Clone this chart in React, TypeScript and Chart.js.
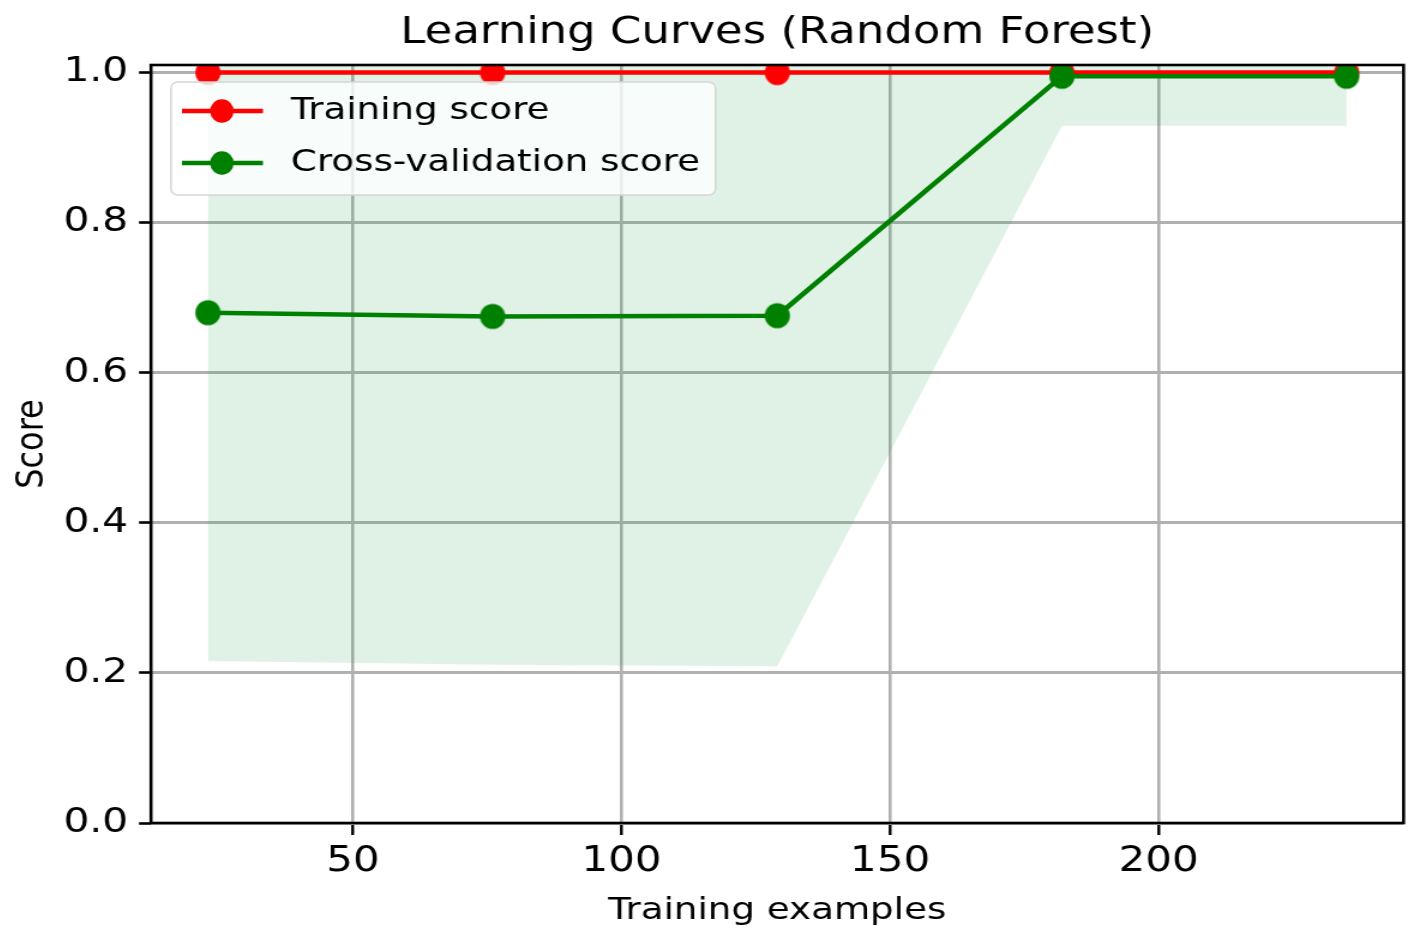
import React, { useEffect, useRef } from 'react';
import { Chart, registerables } from 'chart.js';

Chart.register(...registerables);

// ---- data ----
const trainSizes = [23, 76, 129, 182, 235];
const trainScoreMean = [1.0, 1.0, 1.0, 1.0, 1.0];
const cvScoreMean = [0.68, 0.675, 0.676, 0.995, 0.995];
const cvScoreLower = [0.216, 0.211, 0.209, 0.929, 0.929];
const cvScoreUpper = [1.144, 1.139, 1.143, 1.061, 1.061];
const xTicks = [50, 100, 150, 200];
const yTicks = [0, 0.2, 0.4, 0.6, 0.8, 1.0];
const seriesLabels = ['Training score', 'Cross-validation score'];
const titleText = 'Learning Curves (Random Forest)';
const xTitle = 'Training examples';
const yTitle = 'Score';

// ---- look ----
const SX = 1.2; // horizontal stretch of the whole figure
const W = 1172;
const H = 924;
const FONT = "'DejaVu Sans', sans-serif";
const RED = '#ff0000';
const GREEN = '#008000';
const BAND = 'rgba(30,160,70,0.14)';

function makeMarker(color: string, rx: number, ry: number) {
  const c = document.createElement('canvas');
  c.width = Math.ceil(rx * 2) + 2;
  c.height = Math.ceil(ry * 2) + 2;
  const g = c.getContext('2d')!;
  g.fillStyle = color;
  g.beginPath();
  g.ellipse(c.width / 2, c.height / 2, rx, ry, 0, 0, Math.PI * 2);
  g.fill();
  return c;
}

const framePlugin = {
  id: 'frame',
  afterDatasetsDraw(chart: any) {
    const { ctx, chartArea: a } = chart;
    ctx.save();
    ctx.strokeStyle = '#000';
    ctx.lineWidth = 2.6;
    ctx.strokeRect(a.left, a.top, a.right - a.left, a.bottom - a.top);
    ctx.restore();
  },
};

const legendPlugin = {
  id: 'mplLegend',
  afterDraw(chart: any) {
    const { ctx, chartArea: a } = chart;
    const x0 = a.left + 16.6;
    const y0 = a.top + 17;
    const w = 454;
    const h = 113;
    ctx.save();
    ctx.beginPath();
    (ctx as any).roundRect(x0, y0, w, h, 6);
    ctx.fillStyle = 'rgba(255,255,255,0.8)';
    ctx.fill();
    ctx.strokeStyle = '#d6d6d6';
    ctx.lineWidth = 1.5;
    ctx.stroke();
    const rows = [
      { label: seriesLabels[0], color: RED, dy: 29 },
      { label: seriesLabels[1], color: GREEN, dy: 81 },
    ];
    rows.forEach((r) => {
      const cy = y0 + r.dy;
      ctx.strokeStyle = r.color;
      ctx.lineWidth = 4.5;
      ctx.beginPath();
      ctx.moveTo(x0 + 9.2, cy);
      ctx.lineTo(x0 + 76.7, cy);
      ctx.stroke();
      ctx.fillStyle = r.color;
      ctx.beginPath();
      ctx.ellipse(x0 + 42.5, cy, 11.8 / SX, 11.8, 0, 0, Math.PI * 2);
      ctx.fill();
      ctx.fillStyle = '#000';
      ctx.font = `31px ${FONT}`;
      ctx.textAlign = 'left';
      ctx.textBaseline = 'middle';
      ctx.fillText(r.label, x0 + 100, cy);
    });
    ctx.restore();
  },
};

export default function App() {
  const ref = useRef<HTMLCanvasElement | null>(null);

  useEffect(() => {
    const canvas = ref.current!;
    const redMarker = makeMarker(RED, 12.6 / SX, 12.6);
    const greenMarker = makeMarker(GREEN, 12.6 / SX, 12.6);
    const pts = (ys: number[]) => trainSizes.map((x, i) => ({ x, y: ys[i] }));

    const chart = new Chart(canvas, {
      type: 'line',
      data: {
        datasets: [
          {
            label: 'cv upper',
            data: pts(cvScoreUpper),
            borderWidth: 0,
            pointRadius: 0,
            backgroundColor: BAND,
            fill: '+1',
            order: 3,
            clip: 0,
          } as any,
          {
            label: 'cv lower',
            data: pts(cvScoreLower),
            borderWidth: 0,
            pointRadius: 0,
            fill: false,
            order: 4,
            clip: 0,
          },
          {
            label: seriesLabels[0],
            data: pts(trainScoreMean),
            borderColor: RED,
            backgroundColor: RED,
            borderWidth: 4.5,
            pointStyle: redMarker as any,
            pointRadius: 12,
            fill: false,
            order: 1,
            clip: 0,
          },
          {
            label: seriesLabels[1],
            data: pts(cvScoreMean),
            borderColor: GREEN,
            backgroundColor: GREEN,
            borderWidth: 4.5,
            pointStyle: greenMarker as any,
            pointRadius: 12,
            fill: false,
            order: 0,
            clip: 0,
          },
        ],
      },
      options: {
        responsive: false,
        animation: false,
        devicePixelRatio: 1,
        events: [],
        layout: { autoPadding: false, padding: { left: 0, right: 8.7, top: 0, bottom: 0 } },
        elements: { line: { tension: 0 } },
        plugins: {
          legend: { display: false },
          tooltip: { enabled: false },
          title: {
            display: true,
            text: titleText,
            color: '#000',
            font: { family: FONT, size: 37.5, weight: 'normal' as any, lineHeight: 1.2 },
            padding: { top: 2.5, bottom: 9.5 },
            fullSize: false,
          },
        },
        scales: {
          x: {
            type: 'linear',
            min: 12.4,
            max: 245.6,
            afterBuildTicks: (s: any) => {
              s.ticks = xTicks.map((v) => ({ value: v }));
            },
            afterFit: (s: any) => {
              s.height = 109;
            },
            ticks: {
              color: '#000',
              font: { family: FONT, size: 35 },
              padding: 6,
              maxRotation: 0,
              autoSkip: false,
              callback: (v: any) => String(v),
            },
            grid: {
              color: '#b0b0b0',
              lineWidth: 2.6,
              drawTicks: true,
              tickLength: 12,
              tickColor: '#000',
              tickWidth: 2.4,
            },
            border: { display: false },
            title: {
              display: true,
              text: xTitle,
              color: '#000',
              font: { family: FONT, size: 31, lineHeight: 1.2 },
              padding: { top: 0, bottom: 2.5 },
            },
          },
          y: {
            type: 'linear',
            min: 0,
            max: 1.01,
            afterBuildTicks: (s: any) => {
              s.ticks = yTicks.map((v) => ({ value: v }));
            },
            afterFit: (s: any) => {
              s.width = 119.2;
            },
            ticks: {
              color: '#000',
              font: { family: FONT, size: 34 },
              padding: 9,
              autoSkip: false,
              callback: (v: any) => Number(v).toFixed(1),
            },
            grid: {
              color: '#b0b0b0',
              lineWidth: 3,
              drawTicks: true,
              tickLength: 10,
              tickColor: '#000',
              tickWidth: 2.6,
            },
            border: { display: false },
            title: {
              display: true,
              text: yTitle,
              color: '#000',
              font: { family: FONT, size: 32, lineHeight: 1.2 },
              padding: { top: 1, bottom: 0 },
            },
          },
        },
      },
      plugins: [framePlugin, legendPlugin],
    });
    canvas.style.width = `${W * SX}px`;
    canvas.style.height = `${H}px`;
    return () => chart.destroy();
  }, []);

  return (
    <canvas
      ref={ref}
      width={W}
      height={H}
      style={{ display: 'block', width: `${W * SX}px`, height: `${H}px` }}
    />
  );
}
